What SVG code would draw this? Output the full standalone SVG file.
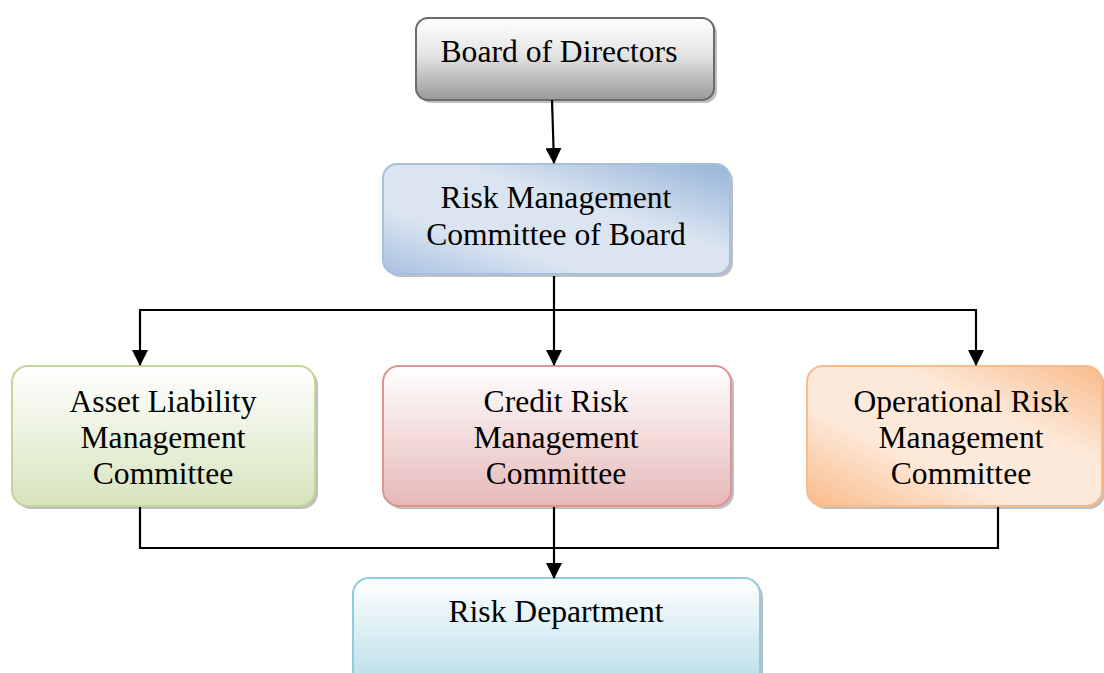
<svg xmlns="http://www.w3.org/2000/svg" width="1104" height="673" viewBox="0 0 1104 673">
<style>
.lbl{font-family:"Liberation Serif","Times New Roman",serif;font-size:31.6px;fill:#000;text-anchor:middle}
.conn{fill:none;stroke:#000;stroke-width:2.2}
.shadow{fill:#000;opacity:0.25}
</style>
<defs>
<marker id="arr" markerWidth="16" markerHeight="16" refX="15" refY="8" orient="auto" markerUnits="userSpaceOnUse">
<path d="M0,0 L16,8 L0,16 Z" fill="#000"/>
</marker>
<linearGradient id="gGray" x1="0" y1="0" x2="0" y2="1">
<stop offset="0" stop-color="#ffffff"/><stop offset="0.45" stop-color="#e4e4e4"/><stop offset="1" stop-color="#999999"/>
</linearGradient>
<linearGradient id="gBlue" x1="0" y1="1" x2="1" y2="0">
<stop offset="0" stop-color="#a8c0e0"/><stop offset="0.3" stop-color="#dbe5f1"/><stop offset="0.6" stop-color="#dbe5f1"/><stop offset="1" stop-color="#95b3d7"/>
</linearGradient>
<linearGradient id="gGreen" x1="0" y1="0" x2="0" y2="1">
<stop offset="0" stop-color="#ffffff"/><stop offset="1" stop-color="#d7e4bd"/>
</linearGradient>
<linearGradient id="gRed" x1="0" y1="0" x2="0" y2="1">
<stop offset="0" stop-color="#ffffff"/><stop offset="1" stop-color="#e6b9b8"/>
</linearGradient>
<linearGradient id="gOrange" x1="0" y1="1" x2="1" y2="0">
<stop offset="0" stop-color="#f9bb8a"/><stop offset="0.35" stop-color="#fde9d9"/><stop offset="0.65" stop-color="#fde9d9"/><stop offset="1" stop-color="#f9bb8a"/>
</linearGradient>
<linearGradient id="gCyan" x1="0" y1="0" x2="0" y2="1">
<stop offset="0" stop-color="#ffffff"/><stop offset="1" stop-color="#b7dde8"/>
</linearGradient>
</defs>

<g id="board">
<rect class="shadow" x="419" y="21" width="298" height="82" rx="12"/>
<rect x="416" y="18" width="298" height="82" rx="12" fill="url(#gGray)" stroke="#6b6b6b" stroke-width="2"/>
<text class="lbl" x="559" y="62">Board of Directors</text>
</g>

<g id="rmcb">
<rect class="shadow" x="386" y="167" width="347" height="110" rx="14"/>
<rect x="383" y="164" width="347" height="110" rx="14" fill="url(#gBlue)" stroke="#a7bfde" stroke-width="2"/>
<text class="lbl" x="556" y="208">Risk Management</text>
<text class="lbl" x="556" y="245">Committee of Board</text>
</g>

<g id="alm">
<rect class="shadow" x="15" y="369" width="303" height="140" rx="16"/>
<rect x="12" y="366" width="303" height="140" rx="16" fill="url(#gGreen)" stroke="#c3d69b" stroke-width="2"/>
<text class="lbl" x="163" y="412">Asset Liability</text>
<text class="lbl" x="163" y="448">Management</text>
<text class="lbl" x="163" y="484">Committee</text>
</g>

<g id="crm">
<rect class="shadow" x="386" y="369" width="348" height="140" rx="16"/>
<rect x="383" y="366" width="348" height="140" rx="16" fill="url(#gRed)" stroke="#d99694" stroke-width="2"/>
<text class="lbl" x="556" y="412">Credit Risk</text>
<text class="lbl" x="556" y="448">Management</text>
<text class="lbl" x="556" y="484">Committee</text>
</g>

<g id="orm">
<rect class="shadow" x="810" y="369" width="295" height="140" rx="16"/>
<rect x="807" y="366" width="295" height="140" rx="16" fill="url(#gOrange)" stroke="#f9bb8a" stroke-width="2"/>
<text class="lbl" x="961" y="412">Operational Risk</text>
<text class="lbl" x="961" y="448">Management</text>
<text class="lbl" x="961" y="484">Committee</text>
</g>

<g id="riskdept">
<rect class="shadow" x="356" y="581" width="407" height="110" rx="16"/>
<rect x="353" y="578" width="407" height="110" rx="16" fill="url(#gCyan)" stroke="#92cddc" stroke-width="2"/>
<text class="lbl" x="556" y="622">Risk Department</text>
</g>

<g id="connectors">
<line class="conn" x1="552" y1="100" x2="554" y2="163" marker-end="url(#arr)"/>
<line class="conn" x1="554" y1="276" x2="554" y2="365" marker-end="url(#arr)"/>
<line class="conn" x1="139" y1="310" x2="977" y2="310"/>
<line class="conn" x1="140" y1="310" x2="140" y2="365" marker-end="url(#arr)"/>
<line class="conn" x1="976" y1="310" x2="976" y2="365" marker-end="url(#arr)"/>
<polyline class="conn" points="140,507 140,548 998,548 998,507"/>
<line class="conn" x1="554" y1="507" x2="554" y2="578" marker-end="url(#arr)"/>
</g>
</svg>
